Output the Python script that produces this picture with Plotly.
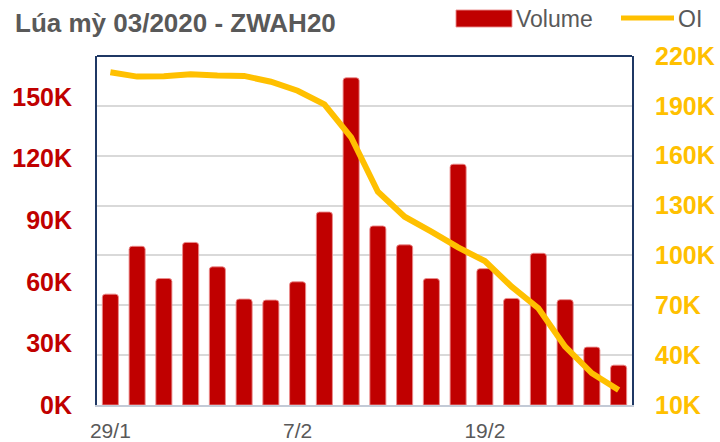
import plotly.graph_objects as go

dates = ["29/1", "30/1", "31/1", "3/2", "4/2", "5/2", "6/2", "7/2", "10/2", "11/2",
         "12/2", "13/2", "14/2", "18/2", "19/2", "20/2", "21/2", "24/2", "25/2", "26/2"]
volume = [54000, 77300, 61600, 79200, 67300, 51600, 51100, 60000, 94000, 159400,
          87200, 78000, 61600, 117300, 66400, 51900, 73900, 51300, 28200, 19400]
oi = [210200, 207600, 207800, 209000, 208200, 208000, 204500, 199100, 190900, 171100,
      138300, 123300, 114300, 104800, 96600, 81200, 68200, 45100, 29100, 19000]

x_tickvals = ["29/1", "7/2", "19/2"]
left_ticks = [0, 30000, 60000, 90000, 120000, 150000]
left_text = ["0K", "30K", "60K", "90K", "120K", "150K"]
right_ticks = [10000, 40000, 70000, 100000, 130000, 160000, 190000, 220000]
right_text = ["10K", "40K", "70K", "100K", "130K", "160K", "190K", "220K"]

RED = "#C00000"
GOLD = "#FFC000"
GREY = "#595959"
NAVY = "#1F3864"
FONT = "Liberation Sans, Arial, sans-serif"

fig = go.Figure()
fig.add_trace(go.Bar(
    x=dates, y=volume, name="Volume", yaxis="y",
    marker=dict(color=RED, line=dict(color="rgba(235,140,140,0.9)", width=1), cornerradius=3),
))
fig.add_trace(go.Scatter(
    x=dates, y=oi, name="OI", yaxis="y2", mode="lines",
    line=dict(color=GOLD, width=6),
))

L, R, T, B = 97, 88, 56, 37
PW = 720 - L - R
PH = 442 - T - B

def px(xp):
    return (xp - L) / PW

def py(yp):
    return (442 - B - yp) / PH

fig.update_layout(
    width=720, height=442,
    margin=dict(l=L, r=R, t=T, b=B, pad=0, autoexpand=False),
    paper_bgcolor="white", plot_bgcolor="white",
    showlegend=False,
    bargap=0.4,
    font=dict(family=FONT),
    title=dict(text="<b>Lúa mỳ 03/2020 - ZWAH20</b>", xref="container", yref="container",
               x=15 / 720, xanchor="left", y=1 - 23 / 442, yanchor="middle",
               font=dict(size=26, color=GREY, family=FONT)),
    xaxis=dict(
        type="category", tickmode="array", tickvals=x_tickvals, ticktext=x_tickvals,
        showgrid=False, showline=True, linecolor="#C3CAD6", linewidth=2,
        ticks="outside", ticklen=6, tickcolor="rgba(0,0,0,0)", automargin=False,
        tickfont=dict(size=21, color=GREY, family=FONT), zeroline=False,
    ),
    yaxis=dict(
        range=[0, 170000], tickmode="array", tickvals=left_ticks, ticktext=left_text,
        showgrid=False, zeroline=False, showline=True, linecolor=NAVY, linewidth=2,
        ticks="outside", ticklen=18, tickcolor="rgba(0,0,0,0)", automargin=False,
        tickfont=dict(size=25, color=RED, family=FONT, weight="bold"),
    ),
    yaxis2=dict(
        range=[10000, 220000], overlaying="y", side="right",
        tickmode="array", tickvals=right_ticks, ticktext=right_text,
        showgrid=True, gridcolor="#D9D9D9", gridwidth=1.5, zeroline=False,
        showline=True, linecolor=NAVY, linewidth=2, automargin=False,
        ticks="outside", ticklen=16, tickcolor="rgba(0,0,0,0)",
        tickfont=dict(size=25, color=GOLD, family=FONT, weight="bold"),
    ),
    shapes=[
        dict(type="line", xref="paper", yref="paper", x0=0, x1=1, y0=1, y1=1,
             line=dict(color=NAVY, width=2)),
        dict(type="rect", xref="paper", yref="paper",
             x0=px(456), x1=px(512), y0=py(27), y1=py(10),
             fillcolor=RED, line=dict(color="rgba(235,140,140,0.9)", width=1)),
        dict(type="line", xref="paper", yref="paper",
             x0=px(621), x1=px(674), y0=py(18), y1=py(18),
             line=dict(color=GOLD, width=5)),
    ],
    annotations=[
        dict(text="Volume", xref="paper", yref="paper", x=px(514), y=py(18.5),
             xanchor="left", yanchor="middle", showarrow=False,
             font=dict(size=23, color=GREY, family=FONT)),
        dict(text="OI", xref="paper", yref="paper", x=px(676), y=py(18.5),
             xanchor="left", yanchor="middle", showarrow=False,
             font=dict(size=23, color=GREY, family=FONT)),
    ],
)

fig.write_html("out.html", config={"displayModeBar": False},
               post_script="document.body.style.margin='0';document.body.style.overflow='hidden';")
